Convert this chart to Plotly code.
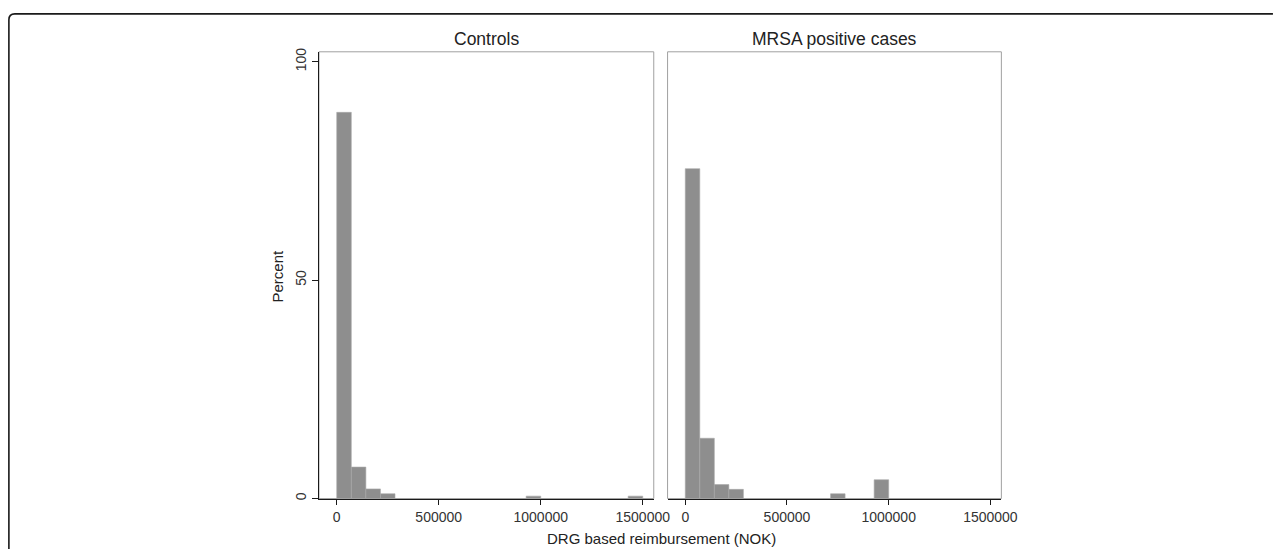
import plotly.graph_objects as go

# ---- data ----
bin_width = 1500000 / 21          # histogram bin width in NOK
controls_bin_index = [0, 1, 2, 3, 13, 20]
controls_percent = [88.4, 7.2, 2.2, 1.1, 0.55, 0.55]
mrsa_bin_index = [0, 1, 2, 3, 10, 13]
mrsa_percent = [75.5, 13.8, 3.2, 2.1, 1.1, 4.3]
panel_titles = ["Controls", "MRSA positive cases"]
x_ticks = [0, 500000, 1000000, 1500000]
y_ticks = [0, 50, 100]

W, H = 1284, 549
FONT = "Liberation Sans, Arial, sans-serif"


def px(x):
    return x / W


def py(y):
    return 1 - y / H


BAR = "#8e8e8e"
EDGE = "#a8a8a8"

fig = go.Figure()
for i, (idx, vals) in enumerate([(controls_bin_index, controls_percent),
                                  (mrsa_bin_index, mrsa_percent)]):
    centers = [(k + 0.5) * bin_width for k in idx]
    fig.add_trace(go.Bar(
        x=centers, y=vals, width=[bin_width] * len(vals),
        marker=dict(color=BAR, line=dict(color=EDGE, width=0.6)),
        xaxis="x" if i == 0 else "x2", yaxis="y" if i == 0 else "y2",
        showlegend=False, hoverinfo="x+y",
    ))

ydom = [py(500), py(48.33)]
xrange_ = [-87000, 1554000]
yrange_ = [0, 102.26]
tickfont = dict(family=FONT, size=14, color="#333333")

common_x = dict(range=xrange_, tickvals=x_ticks, ticktext=[str(v) for v in x_ticks],
                showgrid=False, zeroline=False, showline=True, linecolor="#1a1a1a",
                linewidth=1.3, ticks="outside", ticklen=5, tickcolor="#1a1a1a",
                tickfont=tickfont, fixedrange=True)

fig.update_layout(
    width=W, height=H,
    margin=dict(l=0, r=0, t=0, b=0),
    paper_bgcolor="white", plot_bgcolor="white",
    bargap=0,
    xaxis=dict(domain=[px(323), px(662)], anchor="y", **common_x),
    xaxis2=dict(domain=[px(676), px(1014)], anchor="y2", **common_x),
    yaxis=dict(domain=ydom, anchor="x", range=yrange_, tickvals=y_ticks,
               showgrid=False, zeroline=False, showline=True, linecolor="#1a1a1a",
               linewidth=1.3, ticks="outside", ticklen=6, tickcolor="#1a1a1a",
               tickangle=-90, tickfont=tickfont, fixedrange=True),
    yaxis2=dict(domain=ydom, anchor="x2", range=yrange_, showticklabels=False,
                showgrid=False, zeroline=False, showline=False, ticks="",
                fixedrange=True),
)

shapes = []
# gray frames around each plot region
for xr, yr in [("x domain", "y domain"), ("x2 domain", "y2 domain")]:
    shapes.append(dict(type="rect", xref=xr, yref=yr, x0=0, x1=1, y0=0, y1=1,
                       line=dict(color="#a0a0a0", width=1), layer="below"))
# outer rounded border (top and left)
r = 6
path = (f"M {px(9)},{py(H + 5)} L {px(9)},{py(10 + r)} "
        f"Q {px(9)},{py(10)} {px(9 + r)},{py(10)} L {px(W + 5)},{py(10)}")
shapes.append(dict(type="path", xref="paper", yref="paper", path=path,
                   line=dict(color="#1a1a1a", width=1.6)))
fig.update_layout(shapes=shapes)

annotations = []
for t, cx in zip(panel_titles, [(323 + 662) / 2, (676 + 1014) / 2]):
    annotations.append(dict(text=t, x=px(cx), y=py(35.5), xref="paper", yref="paper",
                            showarrow=False, xanchor="center", yanchor="middle",
                            font=dict(family=FONT, size=17.5, color="#222222")))
annotations.append(dict(text="DRG based reimbursement (NOK)", x=px(670), y=py(540),
                        xref="paper", yref="paper", showarrow=False,
                        xanchor="center", yanchor="middle",
                        font=dict(family=FONT, size=15, color="#222222")))
annotations.append(dict(text="Percent", x=px(281), y=py(275), xref="paper", yref="paper",
                        showarrow=False, xanchor="center", yanchor="middle", textangle=-90,
                        font=dict(family=FONT, size=15, color="#222222")))
fig.update_layout(annotations=annotations)

fig.write_html(
    "out.html",
    config={"displayModeBar": False, "staticPlot": True},
    post_script=("document.documentElement.style.margin='0';"
                 "document.documentElement.style.overflow='hidden';"
                 "document.body.style.margin='0';document.body.style.padding='0';"
                 "document.body.style.overflow='hidden';"
                 "var gd=document.getElementById('{plot_id}');"
                 "gd.style.position='fixed';gd.style.top='0px';gd.style.left='0px';"),
)
